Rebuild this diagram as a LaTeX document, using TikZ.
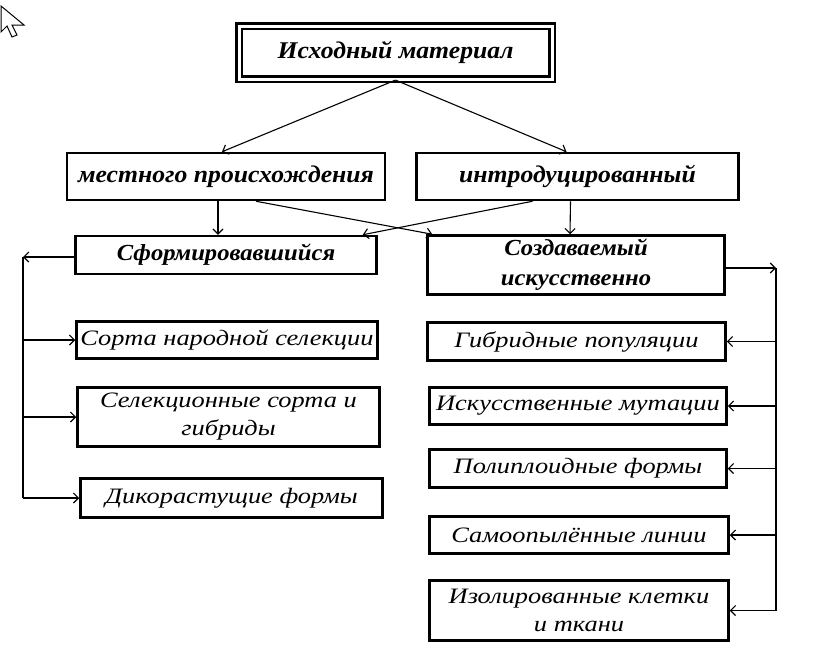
\documentclass[tikz,border=0pt]{standalone}
\usepackage{fontspec}
\setmainfont{Liberation Serif}
\newfontfamily\headfont[FakeStretch=1.07]{Liberation Serif}
\newfontfamily\lowfont[FakeStretch=1.2]{Liberation Serif}
\usepackage{tikz}
\usetikzlibrary{arrows.meta}

\begin{document}
\begin{tikzpicture}[x=1pt,y=-1pt,
    box/.style={draw,line width=2.5pt,inner sep=2pt,align=center,font=\fontsize{22}{28}\lowfont\itshape},
    head/.style={box,font=\fontsize{24}{30}\headfont\bfseries\itshape},
    sub/.style={box,font=\fontsize{23}{30}\headfont\bfseries\itshape},
    link/.style={-{Straight Barb[length=5pt,width=10pt,line width=1.1pt]},line width=1.1pt}]
    \useasboundingbox (0,0) rectangle (814,654);
    \draw[line width=1pt,fill=white] (1,6) -- (1,32) -- (7,26) -- (12,37) -- (17,35) -- (12,25) -- (24,25) -- cycle;
    \node[head,double,double distance=3pt,line width=2.2pt,minimum width=313pt,minimum height=53pt] (top) at (395.5,52.5) {Исходный материал};
    \node[head,minimum width=318pt,minimum height=47pt] (mest) at (226,176.5) {местного происхождения};
    \node[head,minimum width=322pt,minimum height=47pt] (intro) at (577.5,176.5) {интродуцированный};
    \node[sub,minimum width=301pt,minimum height=38pt] (sform) at (226,255) {Сформировавшийся};
    \node[sub,minimum width=297pt,minimum height=59pt] (sozd) at (576,265) {Создаваемый\\искусственно};
    \node[box,minimum width=301pt,minimum height=37pt] (sorta) at (227,340) {Сорта народной селекции};
    \node[box,minimum width=302pt,minimum height=59pt] (selek) at (228.5,417) {Селекционные сорта и\\гибриды};
    \node[box,minimum width=302pt,minimum height=39pt] (dikor) at (231.5,498) {Дикорастущие формы};
    \node[box,minimum width=298pt,minimum height=38pt] (gibr) at (576.5,341.5) {Гибридные популяции};
    \node[box,minimum width=297pt,minimum height=37pt] (iskus) at (578,406) {Искусственные мутации};
    \node[box,minimum width=297pt,minimum height=38pt] (polip) at (578,468.5) {Полиплоидные формы};
    \node[box,minimum width=299pt,minimum height=37pt] (samo) at (579,535) {Самоопылённые линии};
    \node[box,minimum width=299pt,minimum height=60pt] (izol) at (579,610.5) {Изолированные клетки\\и ткани};
    \coordinate (lbus) at (23,0);
    \coordinate (rbus) at (776,0);
    \coordinate (sfw) at ([yshift=-2pt]sform.west);
    \coordinate (sze) at ([yshift=-3pt]sozd.east);
    \draw[link] (top.south) -- ([xshift=-4pt]mest.north);
    \draw[link] (top.south) -- ([xshift=-11pt]intro.north);
    \draw[link] ([xshift=-8pt]mest.south) -- ([xshift=-8pt]sform.north);
    \draw[link] ([xshift=-7pt]intro.south) -- ([xshift=-6pt]sozd.north);
    \draw[link] ([xshift=30pt]mest.south) -- ([xshift=6pt]sozd.north west);
    \draw[link] ([xshift=-45pt]intro.south) -- ([xshift=-15pt]sform.north east);
    \draw[link] (sfw) -- (lbus |- sfw);
    \draw[line width=1.1pt] (lbus |- sfw) -- (lbus |- dikor.west);
    \foreach \n in {sorta,selek,dikor}
        \draw[link] (lbus |- \n.west) -- (\n.west);
    \draw[link] (sze) -- (rbus |- sze);
    \draw[line width=1.1pt] (rbus |- sze) -- (rbus |- izol.east);
    \foreach \n in {gibr,iskus,polip,samo,izol}
        \draw[link] (rbus |- \n.east) -- (\n.east);
\end{tikzpicture}
\end{document}
